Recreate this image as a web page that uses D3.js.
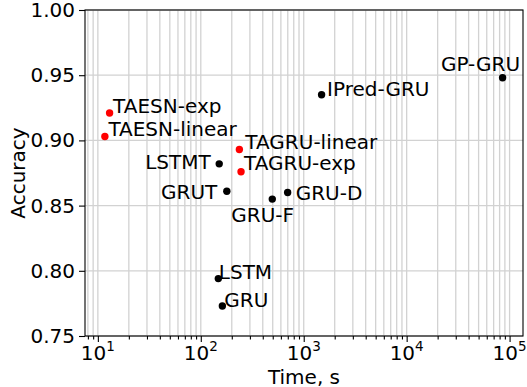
<!DOCTYPE html>
<html>
<head>
<meta charset="utf-8">
<script src="https://cdn.jsdelivr.net/npm/d3@7"></script>
<style>
  body { margin: 0; background: #fff; }
  svg text { font-family: "DejaVu Sans", sans-serif; fill: #000; }
</style>
</head>
<body>
<div id="chart"></div>
<script>
/************************
*** DECLARE VARIABLES ***
************************/

// model names, training time (s) and accuracy
const models = ["TAESN-exp", "TAESN-linear", "LSTMT", "GRUT", "TAGRU-linear", "TAGRU-exp",
  "GRU-F", "GRU-D", "IPred-GRU", "GP-GRU", "LSTM", "GRU"];
const times = [13.0, 11.7, 151, 179, 237, 246, 495, 698, 1491, 85500, 148, 162];
const accuracy = [0.921, 0.903, 0.882, 0.861, 0.893, 0.876, 0.855, 0.860, 0.935, 0.948, 0.794, 0.773];
const isOurs = [true, true, false, false, true, true, false, false, false, false, false, false];

const xTicks = [10, 100, 1000, 10000, 100000];
const xTickExp = ["1", "2", "3", "4", "5"];
const yTicks = [0.75, 0.80, 0.85, 0.90, 0.95, 1.00];

// where each label sits relative to its dot: [dx, dy, anchor]
const labelPos = [
  [3.5, 0, "start"], [3.5, 0, "start"], [-8.5, 5, "end"], [-9.5, 8, "end"],
  [6, -1, "start"], [3, -1.5, "start"], [-41, 23, "start"], [8, 7, "start"],
  [5.5, 1.5, "start"], [17.5, -6.5, "end"], [0.5, 0, "start"], [2, 1, "start"]
];

const W = 527, H = 387;
const plot = {left: 85, right: 523, top: 10, bottom: 336};
const gridCol = "#d2d2d2";

const svg = d3.select("#chart").append("svg")
  .attr("width", W)
  .attr("height", H);

svg.append("rect").attr("width", W).attr("height", H).attr("fill", "#fff");

var x = d3.scaleLog()
  .domain([7.5, 135000])
  .range([plot.left, plot.right]);

var y = d3.scaleLinear()
  .domain([0.75, 1.0])
  .range([plot.bottom, plot.top]);

// minor ticks 2..9 of each decade inside the domain
var minor = [];
for (var e = 0; e <= 5; e++) {
  for (var m = 2; m <= 9; m++) {
    var v = m * Math.pow(10, e);
    if (v > x.domain()[0] && v < x.domain()[1]) minor.push(v);
  }
}

/***********
*** GRID ***
***********/

var grid = svg.append("g");

grid.selectAll("line.vx")
  .data(minor.concat(xTicks))
  .enter()
  .append("line")
    .attr("x1", d => x(d))
    .attr("x2", d => x(d))
    .attr("y1", plot.top)
    .attr("y2", plot.bottom)
    .attr("stroke", gridCol)
    .attr("stroke-width", 1.3);

grid.selectAll("line.hy")
  .data(yTicks)
  .enter()
  .append("line")
    .attr("x1", plot.left)
    .attr("x2", plot.right)
    .attr("y1", d => y(d))
    .attr("y2", d => y(d))
    .attr("stroke", gridCol)
    .attr("stroke-width", 1.3);

/***********
*** AXES ***
***********/

var xAxis = svg.append("g")
  .attr("transform", "translate(0," + plot.bottom + ")")
  .call(d3.axisBottom(x).tickValues(xTicks).tickSize(6).tickPadding(3).tickFormat(""));

svg.append("g")
  .attr("transform", "translate(0," + plot.bottom + ")")
  .call(d3.axisBottom(x).tickValues(minor).tickSize(3.5).tickFormat(""))
  .call(g => g.select(".domain").remove());

var yAxis = svg.append("g")
  .attr("transform", "translate(" + plot.left + ",0)")
  .call(d3.axisLeft(y).tickValues(yTicks).tickSize(6).tickPadding(4).tickFormat(d3.format(".2f")));

yAxis.selectAll("text")
  .style("font-family", "DejaVu Sans")
  .style("font-size", "20px")
  .attr("fill", "#000");

svg.selectAll(".domain").remove();
svg.selectAll(".tick line").attr("stroke", "#000").attr("stroke-width", 1.1);

// decade labels with superscripts
var xLab = svg.append("g").selectAll("text")
  .data(xTicks)
  .enter()
  .append("text")
    .attr("x", d => x(d))
    .attr("y", 360)
    .attr("text-anchor", "middle")
    .style("font-size", "20px");

xLab.append("tspan").text("10");
xLab.append("tspan")
  .attr("dy", -9.5)
  .style("font-size", "13.5px")
  .text((d, i) => xTickExp[i]);

// frame
svg.append("rect")
  .attr("x", plot.left)
  .attr("y", plot.top)
  .attr("width", plot.right - plot.left)
  .attr("height", plot.bottom - plot.top)
  .attr("fill", "none")
  .attr("stroke", "#000")
  .attr("stroke-width", 1.1);

svg.append("text")
  .attr("x", (plot.left + plot.right) / 2)
  .attr("y", 384)
  .attr("text-anchor", "middle")
  .style("font-size", "20px")
  .text("Time, s");

svg.append("text")
  .attr("transform", "translate(25," + ((plot.top + plot.bottom) / 2) + ") rotate(-90)")
  .attr("text-anchor", "middle")
  .style("font-size", "20px")
  .text("Accuracy");

/*************
*** POINTS ***
*************/

var pts = svg.append("g");

pts.selectAll("circle")
  .data(models)
  .enter()
  .append("circle")
    .attr("cx", (d, i) => x(times[i]))
    .attr("cy", (d, i) => y(accuracy[i]))
    .attr("r", 3.7)
    .attr("fill", (d, i) => isOurs[i] ? "#ff0000" : "#000");

pts.selectAll("text")
  .data(models)
  .enter()
  .append("text")
    .attr("x", (d, i) => x(times[i]) + labelPos[i][0])
    .attr("y", (d, i) => y(accuracy[i]) + labelPos[i][1])
    .attr("text-anchor", (d, i) => labelPos[i][2])
    .style("font-size", "20px")
    .text(d => d);
</script>
</body>
</html>
